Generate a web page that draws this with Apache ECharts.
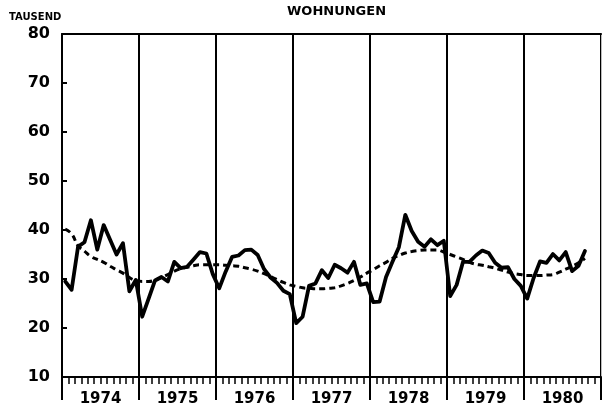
<!DOCTYPE html>
<html>
<head>
<meta charset="utf-8">
<script src="https://cdn.jsdelivr.net/npm/echarts@6/dist/echarts.min.js"></script>
<style>
html,body{margin:0;padding:0;background:#fff;}
#c{width:603px;height:412px;}
</style>
</head>
<body>
<div id="c"></div>
<script>
const years = ['1974','1975','1976','1977','1978','1979','1980'];
const yMin = 10, yMax = 80, yStep = 10;
const months = [];
years.forEach(y => { for (let m = 1; m <= 12; m++) months.push(y + '-' + String(m).padStart(2, '0')); });

// Monthly values (Tausend Wohnungen), Jan 1974 - Oct 1980
const actual = [
  29.5, 27.8, 36.6, 37.5, 42.0, 36.0, 41.0, 38.0, 35.0, 37.3, 27.5, 29.8,
  22.3, 26.0, 29.7, 30.4, 29.5, 33.5, 32.2, 32.5, 34.0, 35.5, 35.2, 31.0,
  28.1, 31.5, 34.5, 34.8, 35.9, 36.0, 34.9, 32.0, 30.3, 29.2, 27.6, 26.9,
  21.0, 22.3, 28.6, 29.1, 31.8, 30.2, 32.9, 32.2, 31.3, 33.5, 28.8, 29.1,
  25.3, 25.4, 30.4, 33.5, 36.5, 43.1, 39.8, 37.6, 36.6, 38.1, 36.9, 37.8,
  26.5, 28.8, 33.5, 33.5, 34.8, 35.8, 35.3, 33.3, 32.3, 32.4, 30.0, 28.6,
  26.0, 30.2, 33.6, 33.3, 35.1, 33.8, 35.5, 31.6, 32.7, 35.7
];
// Trend (dashed)
const trend = [
  40.2, 39.2, 36.8, 35.7, 34.6, 34.0, 33.4, 32.6, 31.9, 31.2, 30.3, 29.7,
  29.5, 29.5, 29.8, 30.3, 30.9, 31.6, 32.1, 32.4, 32.7, 32.9, 32.9, 32.9,
  32.9, 32.8, 32.7, 32.6, 32.3, 32.0, 31.6, 31.1, 30.5, 29.9, 29.3, 28.8,
  28.5, 28.2, 28.1, 28.0, 28.0, 28.1, 28.2, 28.6, 29.1, 29.7, 30.4, 31.2,
  31.9, 32.7, 33.4, 34.2, 34.8, 35.3, 35.6, 35.8, 35.9, 35.9, 35.9, 35.5,
  35.0, 34.5, 34.0, 33.4, 33.0, 32.8, 32.5, 32.2, 31.8, 31.4, 31.1, 30.9,
  30.7, 30.7, 30.7, 30.8, 30.9, 31.4, 32.0, 32.6, 33.3, 34.2
];

const FONT = 'DejaVu Sans';
const chart = echarts.init(document.getElementById('c'), null, {renderer: 'canvas'});
chart.setOption({
  animation: false,
  backgroundColor: '#fff',
  title: {
    text: 'WOHNUNGEN', left: 282, top: 0,
    textStyle: {fontFamily: FONT, fontWeight: 'bold', fontSize: 13, color: '#000'}
  },
  graphic: [{
    type: 'text', left: 9, top: 12,
    style: {text: 'TAUSEND', fontFamily: FONT, fontWeight: 'bold', fontSize: 10, fill: '#000'}
  }],
  grid: {left: 62, right: 2, top: 34, bottom: 35, show: false},
  xAxis: [
    {
      type: 'category', data: months, boundaryGap: true, position: 'bottom',
      axisLine: {show: true, lineStyle: {color: '#000', width: 2}},
      axisTick: {show: true, interval: 0, length: 7, lineStyle: {color: '#000', width: 1.5}},
      axisLabel: {show: false}, splitLine: {show: false}
    },
    {
      type: 'category', data: years, boundaryGap: true, position: 'bottom',
      axisLine: {show: false},
      axisTick: {show: true, interval: 0, length: 23, lineStyle: {color: '#000', width: 2}},
      axisLabel: {show: true, interval: 0, margin: 15, fontFamily: FONT, fontWeight: 'bold', fontSize: 15, color: '#000'},
      splitLine: {show: true, interval: 0, lineStyle: {color: '#000', width: 2}}
    },
    {
      type: 'category', data: years, position: 'top',
      axisLine: {show: true, lineStyle: {color: '#000', width: 2}},
      axisTick: {show: false}, axisLabel: {show: false}
    }
  ],
  yAxis: [
    {
      type: 'value', min: yMin, max: yMax, interval: yStep,
      axisLine: {show: true, lineStyle: {color: '#000', width: 2}},
      axisTick: {show: true, inside: true, length: 5, lineStyle: {color: '#000', width: 2}},
      axisLabel: {margin: 12, fontFamily: FONT, fontWeight: 'bold', fontSize: 16, color: '#000'},
      splitLine: {show: false}
    },
    {
      type: 'value', min: yMin, max: yMax, position: 'right',
      axisLine: {show: true, lineStyle: {color: '#bbb', width: 1}},
      axisTick: {show: false}, axisLabel: {show: false}, splitLine: {show: false}
    }
  ],
  series: [
    {
      type: 'line', data: actual, xAxisIndex: 0, yAxisIndex: 0, symbol: 'none',
      lineStyle: {color: '#000', width: 3.8, join: 'round', cap: 'round'}
    },
    {
      type: 'line', data: trend, xAxisIndex: 0, yAxisIndex: 0, symbol: 'none', smooth: true,
      lineStyle: {color: '#000', width: 3, type: [6, 4]}
    }
  ]
});
</script>
</body>
</html>
